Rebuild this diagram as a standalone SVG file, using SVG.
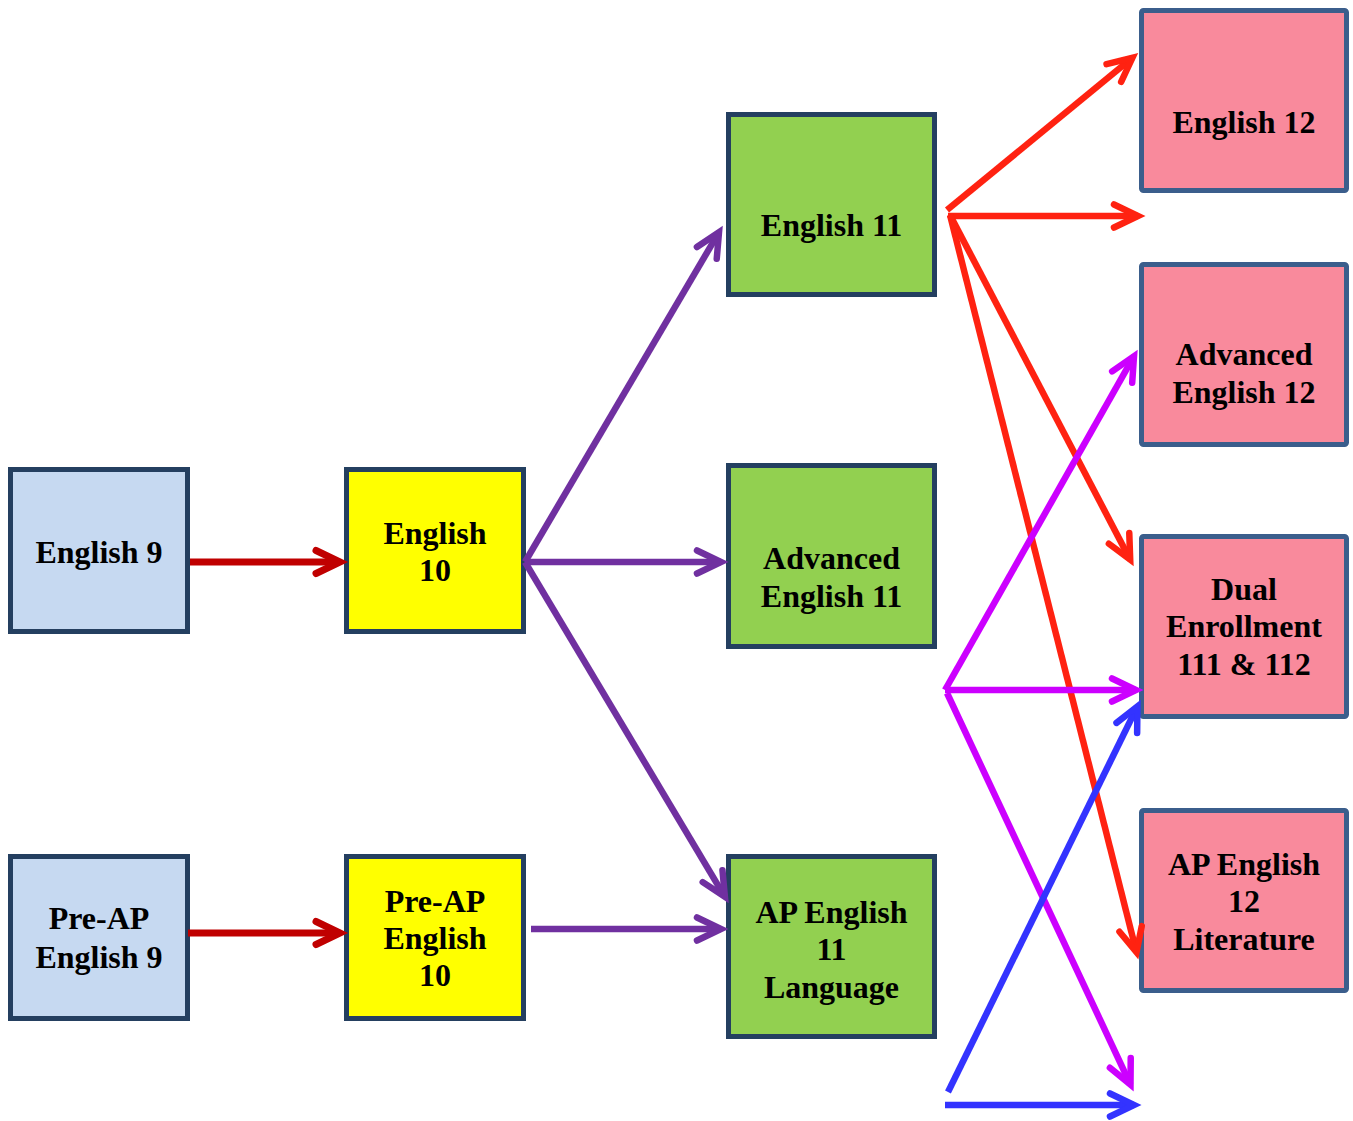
<svg xmlns="http://www.w3.org/2000/svg" width="1353" height="1121" viewBox="0 0 1353 1121">
<style>
.box{stroke:#243f60;stroke-width:5}
.b9{fill:#c6d9f1}
.b10{fill:#ffff00}
.b11{fill:#92d050}
.b12{fill:#f98a9c;stroke:#3b5e8c;stroke-width:5}
text{font-family:"Liberation Serif","Times New Roman",serif;font-weight:bold;font-size:32px;fill:#000;text-anchor:middle}
.c line{fill:none;stroke-linecap:butt}
.dr{stroke:#c00000;stroke-width:7}
.pu{stroke:#7030a0;stroke-width:6.5}
.rd{stroke:#ff2211;stroke-width:6.5}
.mg{stroke:#cc00ff;stroke-width:6.5}
.bl{stroke:#3333ff;stroke-width:6.5}
</style>
<defs>
<marker id="mdr" markerUnits="userSpaceOnUse" viewBox="-40 -25 50 50" refX="0" refY="0" markerWidth="50" markerHeight="50" orient="auto" overflow="visible"><path d="M-24,-11.5 L0,0 L-24,11.5" fill="none" stroke="#c00000" stroke-width="7" stroke-linecap="round"/></marker>
<marker id="mpu" markerUnits="userSpaceOnUse" viewBox="-40 -25 50 50" refX="0" refY="0" markerWidth="50" markerHeight="50" orient="auto" overflow="visible"><path d="M-24,-11.5 L0,0 L-24,11.5" fill="none" stroke="#7030a0" stroke-width="6.5" stroke-linecap="round"/></marker>
<marker id="mrd" markerUnits="userSpaceOnUse" viewBox="-40 -25 50 50" refX="0" refY="0" markerWidth="50" markerHeight="50" orient="auto" overflow="visible"><path d="M-24,-11.5 L0,0 L-24,11.5" fill="none" stroke="#ff2211" stroke-width="6.5" stroke-linecap="round"/></marker>
<marker id="mmg" markerUnits="userSpaceOnUse" viewBox="-40 -25 50 50" refX="0" refY="0" markerWidth="50" markerHeight="50" orient="auto" overflow="visible"><path d="M-24,-11.5 L0,0 L-24,11.5" fill="none" stroke="#cc00ff" stroke-width="6.5" stroke-linecap="round"/></marker>
<marker id="mbl" markerUnits="userSpaceOnUse" viewBox="-40 -25 50 50" refX="0" refY="0" markerWidth="50" markerHeight="50" orient="auto" overflow="visible"><path d="M-24,-11.5 L0,0 L-24,11.5" fill="none" stroke="#3333ff" stroke-width="6.5" stroke-linecap="round"/></marker>
</defs>
<rect width="1353" height="1121" fill="#ffffff"/>

<g id="english9"><rect class="box b9" x="10.5" y="469.5" width="177" height="162"/><text x="99" y="563">English 9</text></g>
<g id="preap9"><rect class="box b9" x="10.5" y="856.5" width="177" height="162"/><text x="99" y="929">Pre-AP</text><text x="99" y="968">English 9</text></g>
<g id="english10"><rect class="box b10" x="346.5" y="469.5" width="177" height="162"/><text x="435" y="544">English</text><text x="435" y="581">10</text></g>
<g id="preap10"><rect class="box b10" x="346.5" y="856.5" width="177" height="162"/><text x="435" y="912">Pre-AP</text><text x="435" y="949">English</text><text x="435" y="986">10</text></g>
<g id="english11"><rect class="box b11" x="728.5" y="114.5" width="206" height="180"/><text x="831.5" y="236">English 11</text></g>
<g id="advenglish11"><rect class="box b11" x="728.5" y="465.5" width="206" height="181"/><text x="831.5" y="569">Advanced</text><text x="831.5" y="607">English 11</text></g>
<g id="apenglish11"><rect class="box b11" x="728.5" y="856.5" width="206" height="180"/><text x="831.5" y="923">AP English</text><text x="831.5" y="960">11</text><text x="831.5" y="998">Language</text></g>
<g id="english12"><rect class="b12" x="1141.5" y="10.5" width="205" height="180" rx="2"/><text x="1244" y="133">English 12</text></g>
<g id="advenglish12"><rect class="b12" x="1141.5" y="264.5" width="205" height="180" rx="2"/><text x="1244" y="365">Advanced</text><text x="1244" y="403">English 12</text></g>
<g id="dualenrollment"><rect class="b12" x="1141.5" y="536.5" width="205" height="180" rx="2"/><text x="1244" y="600">Dual</text><text x="1244" y="637">Enrollment</text><text x="1244" y="675">111 &amp; 112</text></g>
<g id="apenglish12"><rect class="b12" x="1141.5" y="810.5" width="205" height="180" rx="2"/><text x="1244" y="875">AP English</text><text x="1244" y="912">12</text><text x="1244" y="950">Literature</text></g>

<g id="connectors" class="c">
<line class="dr" x1="190" y1="562" x2="340" y2="562" marker-end="url(#mdr)"/>
<line class="dr" x1="188" y1="933" x2="340" y2="933" marker-end="url(#mdr)"/>
<line class="pu" x1="525" y1="562" x2="719" y2="232.2" marker-end="url(#mpu)"/>
<line class="pu" x1="525" y1="562" x2="721" y2="562" marker-end="url(#mpu)"/>
<line class="pu" x1="525" y1="562" x2="724.9" y2="896.8" marker-end="url(#mpu)"/>
<line class="pu" x1="531" y1="929" x2="721" y2="929" marker-end="url(#mpu)"/>
<line class="rd" x1="947" y1="210" x2="1132.4" y2="57.8" marker-end="url(#mrd)"/>
<line class="rd" x1="948" y1="216" x2="1138" y2="216" marker-end="url(#mrd)"/>
<line class="rd" x1="950" y1="215" x2="1130.2" y2="559.7" marker-end="url(#mrd)"/>
<line class="rd" x1="950" y1="215" x2="1136.5" y2="952.2" marker-end="url(#mrd)"/>
<line class="mg" x1="945" y1="690" x2="1134" y2="356.2" marker-end="url(#mmg)"/>
<line class="mg" x1="945" y1="690" x2="1136" y2="690" marker-end="url(#mmg)"/>
<line class="mg" x1="947" y1="693" x2="1130.5" y2="1084.6" marker-end="url(#mmg)"/>
<line class="bl" x1="948" y1="1092" x2="1137.4" y2="706.4" marker-end="url(#mbl)"/>
<line class="bl" x1="945" y1="1105" x2="1134" y2="1105" marker-end="url(#mbl)"/>
</g>
</svg>
